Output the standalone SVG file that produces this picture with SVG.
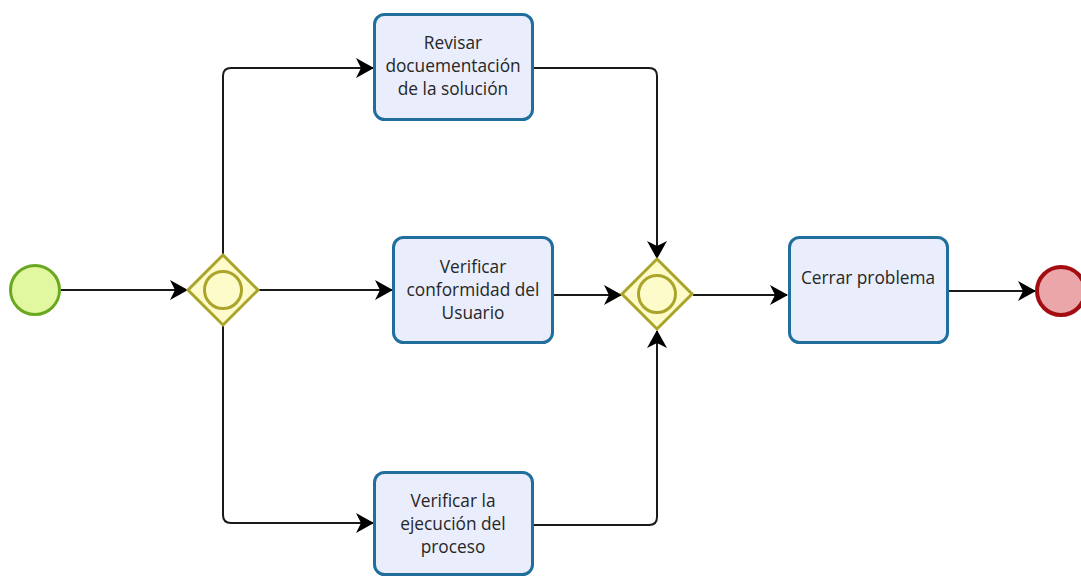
<svg xmlns="http://www.w3.org/2000/svg" width="1081" height="576" viewBox="0 0 1081 576">
  <style>
    .task { fill: #e9edfc; stroke: #1f6e9c; stroke-width: 3; }
    .gw { fill: #fdfbc9; stroke: #aaa52a; stroke-width: 3; }
    .gwin { fill: none; stroke: #aaa52a; stroke-width: 3; }
    .flow { fill: none; stroke: #1a1a1a; stroke-width: 2; marker-end: url(#arrow); }
    .lbl { font-family: "Open Sans", "Noto Sans", "Liberation Sans", sans-serif; font-size: 17.3px; fill: #262626; text-anchor: middle; }
  </style>
  <defs>
    <marker id="arrow" markerUnits="userSpaceOnUse" viewBox="0 0 18 20" markerWidth="18" markerHeight="20" refX="17" refY="10" orient="auto">
      <path d="M0,0 L18,10 L0,20 L5,10 z" fill="#000"/>
    </marker>
  </defs>
  <rect width="1081" height="576" fill="#ffffff"/>

  <!-- sequence flows -->
  <g id="connectors">
    <path class="flow" d="M61,290 H187"/>
    <path class="flow" d="M223,255 V76 Q223,68 231,68 H373"/>
    <path class="flow" d="M258,290 H392"/>
    <path class="flow" d="M223,325 V515 Q223,523 231,523 H373"/>
    <path class="flow" d="M533,68 H649 Q657,68 657,76 V258"/>
    <path class="flow" d="M553,295 H621"/>
    <path class="flow" d="M533,525 H649 Q657,525 657,517 V331"/>
    <path class="flow" d="M693,295 H787"/>
    <path class="flow" d="M948,291 H1035"/>
  </g>

  <g id="start">
    <circle cx="35" cy="290" r="24.5" fill="#e2f8a0" stroke="#6aa821" stroke-width="3"/>
  </g>

  <g id="split">
    <polygon class="gw" points="223,255 258,290 223,325 188,290"/>
    <circle class="gwin" cx="223" cy="290" r="18.5"/>
  </g>

  <g id="task-revisar">
    <rect class="task" x="374.5" y="14.5" width="158" height="105" rx="10"/>
    <text class="lbl" x="453" y="49">Revisar</text>
    <text class="lbl" x="453" y="72">docuementación</text>
    <text class="lbl" x="453" y="95">de la solución</text>
  </g>

  <g id="task-verificar-conformidad">
    <rect class="task" x="393.5" y="237.5" width="159" height="105" rx="10"/>
    <text class="lbl" x="473" y="273">Verificar</text>
    <text class="lbl" x="473" y="296">conformidad del</text>
    <text class="lbl" x="473" y="319">Usuario</text>
  </g>

  <g id="task-verificar-ejecucion">
    <rect class="task" x="374.5" y="472.5" width="158" height="102" rx="10"/>
    <text class="lbl" x="453" y="507">Verificar la</text>
    <text class="lbl" x="453" y="530">ejecución del</text>
    <text class="lbl" x="453" y="553">proceso</text>
  </g>

  <g id="join">
    <polygon class="gw" points="657,259 692,294 657,329 622,294"/>
    <circle class="gwin" cx="657" cy="294" r="18.5"/>
  </g>

  <g id="task-cerrar">
    <rect class="task" x="789.5" y="237.5" width="158" height="105" rx="10"/>
    <text class="lbl" x="868" y="284">Cerrar problema</text>
  </g>

  <g id="end">
    <circle cx="1061" cy="291" r="24" fill="#eba6a9" stroke="#a30d12" stroke-width="4"/>
  </g>
</svg>
